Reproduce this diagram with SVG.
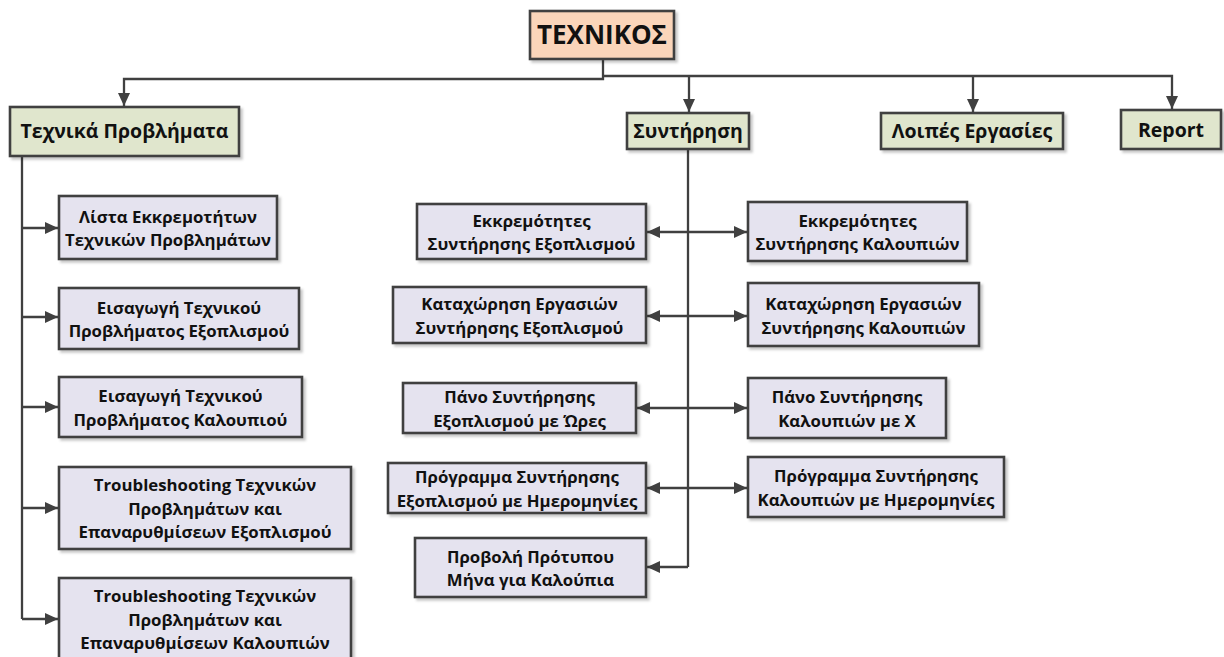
<svg xmlns="http://www.w3.org/2000/svg" width="1224" height="657" viewBox="0 0 1224 657">
  <style>
    .box { stroke: #404040; stroke-width: 2.6; filter: url(#shadow); }
    .root { fill: #FAD5BA; }
    .cat { fill: #E0E6CD; }
    .item { fill: #E5E3EF; }
    text { font-family: "Open Sans", "Noto Sans", "DejaVu Sans", sans-serif; font-weight: bold; fill: #111; text-anchor: middle; }
    .t0 { font-size: 26px; }
    .t1 { font-size: 19.5px; }
    .t2 { font-size: 16.8px; }
    .wire { fill: none; stroke: #404040; stroke-width: 2.3; }
  </style>
  <defs>
    <filter id="shadow" x="-10%" y="-10%" width="130%" height="140%">
      <feDropShadow dx="2.5" dy="2.5" stdDeviation="1.2" flood-color="#000" flood-opacity="0.22"/>
    </filter>
    <marker id="arrow" markerUnits="userSpaceOnUse" markerWidth="15" markerHeight="15" viewBox="0 0 15 15" refX="14" refY="7.5" orient="auto-start-reverse">
      <path d="M1,1.5 L14,7.5 L1,13.5 Z" fill="#404040"/>
    </marker>
  </defs>

  <!-- connectors -->
  <g id="connectors">
    <path class="wire" d="M603,59 V79 H124 V106" marker-end="url(#arrow)"/>
    <path class="wire" d="M603,76 H1172 V109" marker-end="url(#arrow)"/>
    <path class="wire" d="M689,76 V112" marker-end="url(#arrow)"/>
    <path class="wire" d="M973,76 V112" marker-end="url(#arrow)"/>

    <!-- technical problems branch -->
    <path class="wire" d="M22,156 V619"/>
    <path class="wire" d="M22,228 H58" marker-end="url(#arrow)"/>
    <path class="wire" d="M22,317 H58" marker-end="url(#arrow)"/>
    <path class="wire" d="M22,407 H58" marker-end="url(#arrow)"/>
    <path class="wire" d="M22,508 H58" marker-end="url(#arrow)"/>
    <path class="wire" d="M22,619 H58" marker-end="url(#arrow)"/>

    <!-- maintenance branch -->
    <path class="wire" d="M688,149 V567"/>
    <path class="wire" d="M647,232 H747" marker-start="url(#arrow)" marker-end="url(#arrow)"/>
    <path class="wire" d="M647,316 H747" marker-start="url(#arrow)" marker-end="url(#arrow)"/>
    <path class="wire" d="M637,408 H747" marker-start="url(#arrow)" marker-end="url(#arrow)"/>
    <path class="wire" d="M647,488 H747" marker-start="url(#arrow)" marker-end="url(#arrow)"/>
    <path class="wire" d="M688,567 H647" marker-end="url(#arrow)"/>
  </g>

  <!-- root -->
  <g id="texnikos">
    <rect class="box root" x="530" y="11" width="144" height="48"/>
    <text class="t0" x="602" y="44">ΤΕΧΝΙΚΟΣ</text>
  </g>

  <!-- categories -->
  <g id="technika-provlimata">
    <rect class="box cat" x="10" y="107" width="229" height="49"/>
    <text class="t1" x="124.5" y="138">Τεχνικά Προβλήματα</text>
  </g>
  <g id="syntirisi">
    <rect class="box cat" x="627" y="113" width="122" height="36"/>
    <text class="t1" x="688" y="137.5">Συντήρηση</text>
  </g>
  <g id="loipes-ergasies">
    <rect class="box cat" x="881" y="113" width="182" height="36"/>
    <text class="t1" x="972" y="137.5">Λοιπές Εργασίες</text>
  </g>
  <g id="report">
    <rect class="box cat" x="1121" y="110" width="100" height="39"/>
    <text class="t1" x="1171" y="136.5">Report</text>
  </g>

  <!-- technical problems items -->
  <g id="lista-ekkremotiton">
    <rect class="box item" x="59" y="196" width="218" height="63"/>
    <text class="t2" x="168" y="222.5">Λίστα Εκκρεμοτήτων<tspan x="168" dy="23.5">Τεχνικών Προβλημάτων</tspan></text>
  </g>
  <g id="eisagogi-exoplismou">
    <rect class="box item" x="59" y="288" width="240" height="61"/>
    <text class="t2" x="179" y="313.5">Εισαγωγή Τεχνικού<tspan x="179" dy="23.5">Προβλήματος Εξοπλισμού</tspan></text>
  </g>
  <g id="eisagogi-kaloupiou">
    <rect class="box item" x="59" y="377" width="243" height="60"/>
    <text class="t2" x="180.5" y="402">Εισαγωγή Τεχνικού<tspan x="180.5" dy="23.5">Προβλήματος Καλουπιού</tspan></text>
  </g>
  <g id="troubleshooting-exoplismou">
    <rect class="box item" x="59" y="467" width="292" height="82"/>
    <text class="t2" x="205" y="491">Troubleshooting Τεχνικών<tspan x="205" dy="23.5">Προβλημάτων και</tspan><tspan x="205" dy="23.5">Επαναρυθμίσεων Εξοπλισμού</tspan></text>
  </g>
  <g id="troubleshooting-kaloupion">
    <rect class="box item" x="59" y="578" width="292" height="84"/>
    <text class="t2" x="205" y="602">Troubleshooting Τεχνικών<tspan x="205" dy="23.5">Προβλημάτων και</tspan><tspan x="205" dy="23.5">Επαναρυθμίσεων Καλουπιών</tspan></text>
  </g>

  <!-- maintenance items: equipment -->
  <g id="ekkremotites-exoplismou">
    <rect class="box item" x="417" y="204" width="229" height="55"/>
    <text class="t2" x="531.5" y="226.5">Εκκρεμότητες<tspan x="531.5" dy="23.5">Συντήρησης Εξοπλισμού</tspan></text>
  </g>
  <g id="kataxorisi-exoplismou">
    <rect class="box item" x="393" y="287" width="253" height="56"/>
    <text class="t2" x="519.5" y="310">Καταχώρηση Εργασιών<tspan x="519.5" dy="23.5">Συντήρησης Εξοπλισμού</tspan></text>
  </g>
  <g id="pano-exoplismou">
    <rect class="box item" x="403" y="383" width="233" height="50"/>
    <text class="t2" x="519.5" y="403">Πάνο Συντήρησης<tspan x="519.5" dy="23.5">Εξοπλισμού με Ώρες</tspan></text>
  </g>
  <g id="programma-exoplismou">
    <rect class="box item" x="388" y="463" width="258" height="50"/>
    <text class="t2" x="517" y="483">Πρόγραμμα Συντήρησης<tspan x="517" dy="23.5">Εξοπλισμού με Ημερομηνίες</tspan></text>
  </g>
  <g id="provoli-protypou">
    <rect class="box item" x="415" y="538" width="231" height="59"/>
    <text class="t2" x="530.5" y="562.5">Προβολή Πρότυπου<tspan x="530.5" dy="23.5">Μήνα για Καλούπια</tspan></text>
  </g>

  <!-- maintenance items: moulds -->
  <g id="ekkremotites-kaloupion">
    <rect class="box item" x="748" y="202" width="219" height="59"/>
    <text class="t2" x="857.5" y="226.5">Εκκρεμότητες<tspan x="857.5" dy="23.5">Συντήρησης Καλουπιών</tspan></text>
  </g>
  <g id="kataxorisi-kaloupion">
    <rect class="box item" x="748" y="283" width="231" height="63"/>
    <text class="t2" x="863.5" y="310">Καταχώρηση Εργασιών<tspan x="863.5" dy="23.5">Συντήρησης Καλουπιών</tspan></text>
  </g>
  <g id="pano-kaloupion">
    <rect class="box item" x="748" y="378" width="198" height="60"/>
    <text class="t2" x="847" y="403">Πάνο Συντήρησης<tspan x="847" dy="23.5">Καλουπιών με Χ</tspan></text>
  </g>
  <g id="programma-kaloupion">
    <rect class="box item" x="748" y="457" width="256" height="60"/>
    <text class="t2" x="876" y="482">Πρόγραμμα Συντήρησης<tspan x="876" dy="23.5">Καλουπιών με Ημερομηνίες</tspan></text>
  </g>
</svg>
